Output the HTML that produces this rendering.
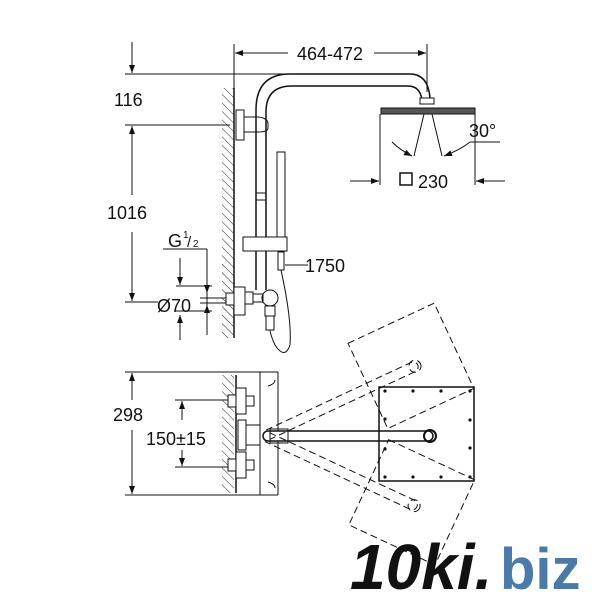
<!DOCTYPE html>
<html><head><style>
html,body{margin:0;padding:0;background:#fff;width:600px;height:600px;overflow:hidden}
svg{display:block}
text{font-family:"Liberation Sans",Arial,sans-serif;fill:#111}
</style></head><body>
<svg width="600" height="600" viewBox="0 0 600 600" xmlns="http://www.w3.org/2000/svg">
<defs>
<pattern id="h" width="6" height="6" patternUnits="userSpaceOnUse" patternTransform="rotate(-45)">
<line x1="0" y1="0" x2="0" y2="6" stroke="#222" stroke-width="1"/>
</pattern>
<marker id="a" markerWidth="8" markerHeight="6" refX="8" refY="3" orient="auto" markerUnits="userSpaceOnUse">
<path d="M0,0 L8,3 L0,6 z" fill="#111"/>
</marker>
</defs>
<g stroke="#111" stroke-width="1" fill="none">
<line x1="234" y1="44" x2="234" y2="95"/>
<line x1="427" y1="44" x2="427" y2="92"/>
<line x1="288" y1="53" x2="235" y2="53" marker-end="url(#a)"/>
<line x1="374" y1="53" x2="426" y2="53" marker-end="url(#a)"/>
<line x1="125" y1="74" x2="300" y2="74"/>
<line x1="132" y1="42" x2="132" y2="73" marker-end="url(#a)"/>
<line x1="125" y1="125" x2="230" y2="125"/>
<line x1="132" y1="195" x2="132" y2="126" marker-end="url(#a)"/>
<line x1="132" y1="232" x2="132" y2="301" marker-end="url(#a)"/>
<line x1="125" y1="302" x2="158" y2="302"/>
<rect x="222" y="88" width="12" height="250" fill="url(#h)" stroke="none"/>
<line x1="234" y1="88" x2="234" y2="338" stroke-width="1.5"/>
<path d="M256,290 V110 Q256,74 290,74 H410 Q428,74 430,98" stroke-width="1.5"/>
<path d="M266,290 V112 Q266,86 292,86 H408 Q420,86 422,100" stroke-width="1.5"/>
<line x1="256" y1="193" x2="266" y2="193"/>
<line x1="256" y1="200" x2="266" y2="200"/>
<rect x="236" y="110" width="8" height="30" fill="#fff"/>
<path d="M244,117 H258 Q268,118 268,124 V128 Q268,132 258,132 H244"/>
<rect x="420" y="98" width="14" height="6" fill="#fff"/>
<rect x="381" y="108" width="94" height="6" fill="#555"/>
<line x1="424" y1="114" x2="414" y2="156"/>
<line x1="432" y1="114" x2="442" y2="156"/>
<path d="M392,142 Q400,150 412,156" marker-end="url(#a)"/>
<path d="M470,142 Q460,150 444,156" marker-end="url(#a)"/>
<line x1="470" y1="142" x2="500" y2="142"/>
<line x1="380" y1="114" x2="380" y2="185"/>
<line x1="475" y1="114" x2="475" y2="185"/>
<line x1="350" y1="181" x2="379" y2="181" marker-end="url(#a)"/>
<line x1="505" y1="181" x2="476" y2="181" marker-end="url(#a)"/>
<rect x="400" y="173" width="12" height="12" stroke-width="1.5"/>
<rect x="277" y="152" width="8" height="86" fill="#fff"/>
<rect x="243" y="237" width="44" height="14" fill="#fff"/>
<rect x="278" y="252" width="6" height="18" fill="#fff"/>
<line x1="285" y1="265" x2="308" y2="265"/>
<path d="M281,270 Q292,320 290,345 Q285,360 275,345 Q268,330 270,322"/>
<rect x="234" y="287" width="11" height="28" fill="#fff"/>
<rect x="226" y="293" width="8" height="12" fill="#fff"/>
<rect x="245" y="292" width="8" height="12" fill="#fff"/>
<circle cx="270" cy="298" r="8" fill="#fff"/>
<rect x="253" y="294" width="10" height="8"/>
<rect x="265" y="306" width="10" height="10" fill="#fff"/>
<rect x="266" y="316" width="8" height="14" fill="#fff"/>
<line x1="163" y1="249" x2="207" y2="249"/>
<line x1="207" y1="249" x2="207" y2="335"/>
<line x1="207" y1="286" x2="207" y2="293" marker-end="url(#a)"/>
<line x1="207" y1="312" x2="207" y2="305" marker-end="url(#a)"/>
<line x1="180" y1="258" x2="180" y2="285" marker-end="url(#a)"/>
<line x1="180" y1="340" x2="180" y2="315" marker-end="url(#a)"/>
<line x1="176" y1="286" x2="212" y2="286"/>
<line x1="200" y1="298" x2="226" y2="298"/>
<line x1="200" y1="303" x2="226" y2="303"/>
<line x1="176" y1="311" x2="212" y2="311"/>
<line x1="125" y1="372" x2="278" y2="372"/>
<line x1="125" y1="495" x2="278" y2="495"/>
<line x1="132" y1="400" x2="132" y2="373" marker-end="url(#a)"/>
<line x1="132" y1="430" x2="132" y2="494" marker-end="url(#a)"/>
<rect x="222" y="375" width="12" height="118" fill="url(#h)" stroke="none"/>
<line x1="236" y1="375" x2="236" y2="493" stroke-width="1.5"/>
<line x1="260" y1="372" x2="260" y2="495"/>
<line x1="278" y1="372" x2="278" y2="495"/>
<line x1="175" y1="400" x2="238" y2="400"/>
<line x1="175" y1="467" x2="238" y2="467"/>
<line x1="182" y1="420" x2="182" y2="401" marker-end="url(#a)"/>
<line x1="182" y1="450" x2="182" y2="466" marker-end="url(#a)"/>
<rect x="236" y="388" width="10" height="26" fill="#fff"/>
<rect x="236" y="452" width="10" height="26" fill="#fff"/>
<rect x="228" y="395" width="8" height="12" fill="#fff"/>
<rect x="228" y="459" width="8" height="12" fill="#fff"/>
<rect x="246" y="396" width="8" height="10" fill="#fff"/>
<rect x="246" y="460" width="8" height="10" fill="#fff"/>
<rect x="238" y="420" width="8" height="30" fill="#fff"/>
<path d="M246,425 H260 M246,445 H260"/>
<path d="M268,386 Q275,384 275,380 M268,482 Q275,484 275,488"/>
<path d="M268,431 H428 A5,5 0 0 1 428,441 H268 A5,5 0 0 1 268,431 z" fill="#fff" stroke-width="1.5"/>
<rect x="270" y="429" width="18" height="14" fill="none"/>
<rect x="379" y="387" width="95" height="94" stroke-width="1.5"/>
<circle cx="430" cy="436" r="6" stroke-width="2"/>
<g stroke-dasharray="7,4" transform="rotate(-25 265 435)">
<rect x="379" y="387" width="95" height="94"/>
<path d="M268,431 H428 A5,5 0 0 1 428,441 H268"/>
<circle cx="430" cy="436" r="6"/>
</g>
<g stroke-dasharray="7,4" transform="rotate(25 265 435)">
<rect x="379" y="387" width="95" height="94"/>
<path d="M268,431 H428 A5,5 0 0 1 428,441 H268"/>
<circle cx="430" cy="436" r="6"/>
</g>
</g>
<g fill="#111">
<circle cx="385" cy="391" r="1.6"/><circle cx="413" cy="391" r="1.6"/><circle cx="441" cy="391" r="1.6"/><circle cx="470" cy="391" r="1.6"/>
<circle cx="385" cy="477" r="1.6"/><circle cx="413" cy="477" r="1.6"/><circle cx="441" cy="477" r="1.6"/><circle cx="470" cy="477" r="1.6"/>
<circle cx="470" cy="420" r="1.6"/><circle cx="470" cy="448" r="1.6"/>
<circle cx="385" cy="419" r="1.6"/><circle cx="385" cy="449" r="1.6"/>
</g>
<text x="330" y="60" font-size="18" text-anchor="middle">464-472</text>
<text x="114" y="106" font-size="18">116</text>
<text x="107" y="219" font-size="18">1016</text>
<text x="168" y="247" font-size="18">G</text>
<text x="183" y="238" font-size="10">1</text>
<text x="187" y="247" font-size="15">/</text>
<text x="193" y="247" font-size="10">2</text>
<text x="157" y="312" font-size="18">Ø70</text>
<text x="305" y="272" font-size="18">1750</text>
<text x="469" y="137" font-size="18">30°</text>
<text x="418" y="188" font-size="18">230</text>
<text x="113" y="421" font-size="18">298</text>
<text x="146" y="445" font-size="18">150±15</text>
<text x="350" y="589" font-size="64" font-weight="bold" font-style="italic" fill="#111">10ki.</text>
<text x="500" y="589" font-size="58" font-weight="bold" style="fill:#4a7aa8">biz</text>
</svg>
</body></html>
